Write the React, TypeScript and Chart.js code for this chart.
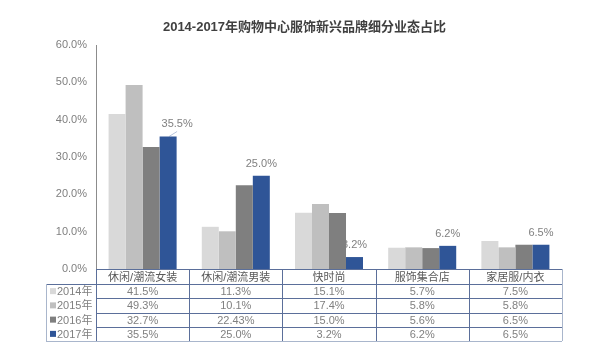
import React, { useEffect, useRef } from "react";
import { Chart, registerables } from "chart.js";

Chart.register(...registerables);

const title = "2014-2017年购物中心服饰新兴品牌细分业态占比";
const categories = ["休闲/潮流女装", "休闲/潮流男装", "快时尚", "服饰集合店", "家居服/内衣"];
const seriesNames = ["2014年", "2015年", "2016年", "2017年"];
const v2014 = [41.5, 11.3, 15.1, 5.7, 7.5];
const v2015 = [49.3, 10.1, 17.4, 5.8, 5.8];
const v2016 = [32.7, 22.43, 15.0, 5.6, 6.5];
const v2017 = [35.5, 25.0, 3.2, 6.2, 6.5];
const tableText2014 = ["41.5%", "11.3%", "15.1%", "5.7%", "7.5%"];
const tableText2015 = ["49.3%", "10.1%", "17.4%", "5.8%", "5.8%"];
const tableText2016 = ["32.7%", "22.43%", "15.0%", "5.6%", "6.5%"];
const tableText2017 = ["35.5%", "25.0%", "3.2%", "6.2%", "6.5%"];
const yTicks = [0, 10, 20, 30, 40, 50, 60];

const colors = ["#d9d9d9", "#bfbfbf", "#7f7f7f", "#2f5597"];
const FONT = "'Liberation Sans', Arial, 'Noto Sans CJK SC', sans-serif";

const tablePlugin = {
  id: "tablePlugin",
  beforeDatasetsDraw(chart: any) {
    const ctx = chart.ctx;
    const meta = chart.getDatasetMeta(3);
    ctx.save();
    ctx.font = `11px ${FONT}`;
    ctx.fillStyle = "#808080";
    ctx.textAlign = "center";
    ctx.textBaseline = "middle";
    meta.data.forEach((bar: any, i: number) => {
      const dx = i === 0 ? 9 : 0;
      ctx.fillText(tableText2017[i], bar.x + dx, bar.y - 12);
      if (i === 0) {
        ctx.strokeStyle = "#b8c4dc";
        ctx.lineWidth = 1;
        ctx.beginPath();
        ctx.moveTo(bar.x + 1, bar.y);
        ctx.lineTo(bar.x + 9, bar.y - 5);
        ctx.stroke();
      }
    });
    ctx.restore();
  },
  afterDraw(chart: any) {
    const ctx = chart.ctx;
    const area = chart.chartArea;
    const xs = chart.scales.x;
    const left = area.left;
    const right = area.right;
    const n = categories.length;
    const cw = (right - left) / n;
    const top = area.bottom;
    const headerH = 15;
    const rowH = 14.25;
    const legLeft = 46;
    const rows = [tableText2014, tableText2015, tableText2016, tableText2017];
    const bottom = top + headerH + rowH * rows.length;

    ctx.save();
    // title
    ctx.font = `bold 13px ${FONT}`;
    ctx.fillStyle = "#404040";
    ctx.textAlign = "center";
    ctx.textBaseline = "middle";
    ctx.fillText(title, chart.width / 2, 27);

    // grid lines
    ctx.lineWidth = 1;
    ctx.strokeStyle = "#5b6f9a";
    const hl = (y: number, x1: number, x2: number) => {
      ctx.beginPath();
      ctx.moveTo(x1, Math.round(y) + 0.5);
      ctx.lineTo(x2, Math.round(y) + 0.5);
      ctx.stroke();
    };
    const vl = (x: number, y1: number, y2: number) => {
      ctx.beginPath();
      ctx.moveTo(Math.round(x) + 0.5, y1);
      ctx.lineTo(Math.round(x) + 0.5, y2);
      ctx.stroke();
    };
    hl(top, left, right);
    for (let r = 0; r < rows.length; r++) {
      hl(top + headerH + rowH * r, r === 0 ? legLeft : left, right);
    }
    for (let c = 0; c <= n; c++) {
      if (c === n) ctx.strokeStyle = "#a9b6cc";
      vl(left + cw * c, top, bottom);
    }
    ctx.strokeStyle = "#a9b6cc";
    hl(bottom, legLeft, right);
    vl(legLeft, top + headerH, bottom);

    // header text
    ctx.font = `11px ${FONT}`;
    ctx.fillStyle = "#595959";
    ctx.textAlign = "center";
    ctx.textBaseline = "middle";
    categories.forEach((c, i) => {
      ctx.fillText(c, xs.getPixelForValue(i), top + headerH / 2 + 1);
    });
    // rows
    rows.forEach((row, r) => {
      const yc = top + headerH + rowH * r + rowH / 2 + 1;
      ctx.textAlign = "center";
      ctx.fillStyle = "#808080";
      row.forEach((t, i) => {
        ctx.fillText(t, xs.getPixelForValue(i), yc);
      });
      ctx.fillStyle = colors[r];
      ctx.fillRect(legLeft + 4, yc - 4, 6, 6);
      ctx.fillStyle = "#808080";
      ctx.textAlign = "left";
      ctx.fillText(seriesNames[r], legLeft + 11, yc);
    });
    ctx.restore();
  },
};

export default function App() {
  const ref = useRef<HTMLCanvasElement>(null);
  useEffect(() => {
    document.body.style.margin = "0";
    const chart = new Chart(ref.current!, {
      type: "bar",
      data: {
        labels: categories,
        datasets: [v2014, v2015, v2016, v2017].map((d, i) => ({
          label: seriesNames[i],
          data: d,
          backgroundColor: colors[i],
          barPercentage: 1,
          categoryPercentage: 0.73,
        })),
      },
      options: {
        animation: false,
        responsive: false,
        maintainAspectRatio: false,
        layout: { padding: { top: 45, right: 47, bottom: 85, left: 0 } },
        plugins: {
          legend: { display: false },
          title: { display: false },
          tooltip: { enabled: false },
        },
        scales: {
          x: { display: false },
          y: {
            min: 0,
            max: 60,
            afterFit: (s: any) => {
              s.width = 96;
            },
            afterBuildTicks: (s: any) => {
              s.ticks = yTicks.map((v) => ({ value: v }));
            },
            ticks: {
              padding: 9,
              color: "#7f7f7f",
              font: { size: 11, family: FONT },
              callback: (v: any) => Number(v).toFixed(1) + "%",
            },
            grid: { display: false, drawTicks: false },
            border: { display: true, color: "#8c8c8c" },
          },
        },
      },
      plugins: [tablePlugin],
    });
    return () => chart.destroy();
  }, []);
  return (
    <div style={{ width: 609, height: 354 }}>
      <canvas ref={ref} width={609} height={354} style={{ display: "block" }} />
    </div>
  );
}
